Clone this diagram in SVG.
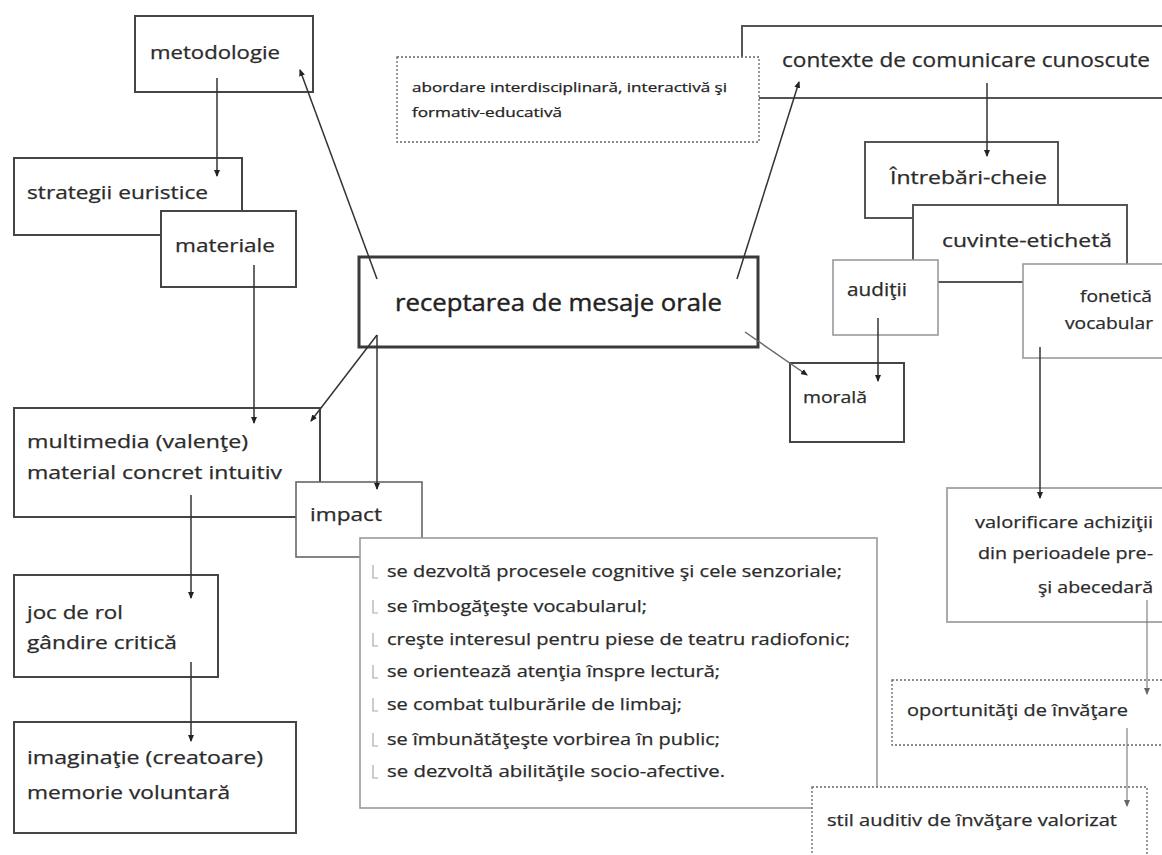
<svg xmlns="http://www.w3.org/2000/svg" width="1162" height="855" viewBox="0 0 1162 855">
<defs>
<style>
.b{fill:#fff;stroke:#454545;stroke-width:2}
.c{fill:#fff;stroke:#3a3a3a;stroke-width:3}
.g{fill:#fff;stroke:#9a9a9a;stroke-width:1.6}
.d{fill:#fff;stroke:#666;stroke-width:1.3;stroke-dasharray:2 2}
text{font-family:"Open Sans","Liberation Sans",sans-serif;fill:#2b2b2b;stroke:#2b2b2b;stroke-width:0.25;font-size:18px}
.s{font-size:16px}
.t{font-size:13px;fill:#222;stroke:#222}
.m{font-size:23px;fill:#222;stroke:#222;stroke-width:0.4}
.k{stroke:#333;stroke-width:1.5;fill:none;marker-end:url(#a)}
.kg{stroke:#777;stroke-width:1.1;fill:none;marker-end:url(#ag)}
.bl{stroke:#aaa;stroke-width:1.2;fill:none}
</style>
<marker id="a" markerUnits="userSpaceOnUse" markerWidth="7" markerHeight="7" refX="6" refY="3.5" orient="auto"><path d="M0,0.5 L7,3.5 L0,6.5 z" fill="#222"/></marker>
<marker id="ag" markerUnits="userSpaceOnUse" markerWidth="7" markerHeight="7" refX="6" refY="3.5" orient="auto"><path d="M0,0.5 L7,3.5 L0,6.5 z" fill="#666"/></marker>
</defs>
<rect width="1162" height="855" fill="#fff"/>

<g id="n-metodologie"><rect class="b" x="135" y="16" width="178" height="76"/><text x="150" y="59" textLength="130" lengthAdjust="spacingAndGlyphs">metodologie</text></g>
<g id="n-strategii"><rect class="b" x="14" y="158" width="228" height="77"/><text x="27" y="199" textLength="181" lengthAdjust="spacingAndGlyphs">strategii euristice</text></g>
<g id="n-materiale"><rect class="b" x="161" y="211" width="135" height="76"/><text x="175" y="252" textLength="100" lengthAdjust="spacingAndGlyphs">materiale</text></g>
<g id="n-multimedia"><rect class="b" x="14" y="408" width="306" height="109"/><text x="27" y="448" textLength="221" lengthAdjust="spacingAndGlyphs">multimedia (valenţe)</text><text x="27" y="479" textLength="255" lengthAdjust="spacingAndGlyphs">material concret intuitiv</text></g>
<g id="n-impact"><rect class="b" x="296" y="482" width="126" height="75" style="stroke:#666;stroke-width:1.6"/><text x="310" y="521" textLength="72" lengthAdjust="spacingAndGlyphs">impact</text></g>
<g id="n-joc"><rect class="b" x="14" y="575" width="204" height="102"/><text x="27" y="619" textLength="96" lengthAdjust="spacingAndGlyphs">joc de rol</text><text x="27" y="649" textLength="150" lengthAdjust="spacingAndGlyphs">gândire critică</text></g>
<g id="n-imaginatie"><rect class="b" x="14" y="722" width="282" height="111"/><text x="27" y="764" textLength="236" lengthAdjust="spacingAndGlyphs">imaginaţie (creatoare)</text><text x="27" y="799" textLength="203" lengthAdjust="spacingAndGlyphs">memorie voluntară</text></g>

<g id="n-receptarea"><rect class="c" x="359" y="257" width="399" height="90"/><text class="m" x="395" y="311" textLength="327" lengthAdjust="spacingAndGlyphs">receptarea de mesaje orale</text></g>

<g id="n-contexte"><rect class="b" x="742" y="26" width="440" height="72" style="stroke:#555"/><text x="782" y="67" style="font-size:20px" textLength="368" lengthAdjust="spacingAndGlyphs">contexte de comunicare cunoscute</text></g>
<g id="n-abordare"><rect class="d" x="397" y="57" width="362" height="85"/><text class="t" x="412" y="92" textLength="315" lengthAdjust="spacingAndGlyphs">abordare interdisciplinară, interactivă şi</text><text class="t" x="412" y="117" textLength="150" lengthAdjust="spacingAndGlyphs">formativ-educativă</text></g>

<g id="n-intrebari"><rect class="b" x="865" y="142" width="193" height="76" style="stroke:#555"/><text x="890" y="184" textLength="157" lengthAdjust="spacingAndGlyphs">Întrebări-cheie</text></g>
<g id="n-cuvinte"><rect class="b" x="913" y="205" width="214" height="77" style="stroke:#555"/><text x="942" y="247" textLength="170" lengthAdjust="spacingAndGlyphs">cuvinte-etichetă</text></g>
<g id="n-auditii"><rect class="g" x="833" y="260" width="105" height="75"/><text x="847" y="296" textLength="60" lengthAdjust="spacingAndGlyphs">audiţii</text></g>
<g id="n-fonetica"><rect class="g" x="1023" y="264" width="160" height="94"/><text class="s" x="1080" y="302" textLength="72" lengthAdjust="spacingAndGlyphs">fonetică</text><text class="s" x="1065" y="329" textLength="88" lengthAdjust="spacingAndGlyphs">vocabular</text></g>
<g id="n-morala"><rect class="b" x="790" y="363" width="114" height="79"/><text class="s" x="803" y="403" textLength="64" lengthAdjust="spacingAndGlyphs">morală</text></g>

<g id="n-valorificare"><rect class="g" x="947" y="488" width="230" height="134" style="stroke:#aaa;stroke-width:2"/><text class="s" x="975" y="528" textLength="178" lengthAdjust="spacingAndGlyphs">valorificare achiziţii</text><text class="s" x="978" y="559" textLength="175" lengthAdjust="spacingAndGlyphs">din perioadele pre-</text><text class="s" x="1038" y="593" textLength="115" lengthAdjust="spacingAndGlyphs">şi abecedară</text></g>

<g id="n-impact-lista"><rect class="g" x="360" y="538" width="517" height="270"/>
<path class="bl" d="M373,565 V578 H378 M373,600 V613 H378 M373,633 V646 H378 M373,665 V678 H378 M373,698 V711 H378 M373,733 V746 H378 M373,765 V778 H378"/>
<text class="s" x="387" y="577" textLength="455" lengthAdjust="spacingAndGlyphs">se dezvoltă procesele cognitive şi cele senzoriale;</text>
<text class="s" x="387" y="612" textLength="260" lengthAdjust="spacingAndGlyphs">se îmbogăţeşte vocabularul;</text>
<text class="s" x="387" y="645" textLength="463" lengthAdjust="spacingAndGlyphs">creşte interesul pentru piese de teatru radiofonic;</text>
<text class="s" x="387" y="677" textLength="333" lengthAdjust="spacingAndGlyphs">se orientează atenţia înspre lectură;</text>
<text class="s" x="387" y="710" textLength="295" lengthAdjust="spacingAndGlyphs">se combat tulburările de limbaj;</text>
<text class="s" x="387" y="745" textLength="333" lengthAdjust="spacingAndGlyphs">se îmbunătăţeşte vorbirea în public;</text>
<text class="s" x="387" y="777" textLength="338" lengthAdjust="spacingAndGlyphs">se dezvoltă abilităţile socio-afective.</text>
</g>

<g id="n-oportunitati"><rect class="d" x="892" y="680" width="290" height="65"/><text class="s" x="907" y="716" style="font-size:17px" textLength="221" lengthAdjust="spacingAndGlyphs">oportunităţi de învăţare</text></g>
<g id="n-stil"><rect class="d" x="812" y="787" width="335" height="80"/><text class="s" x="827" y="826" textLength="290" lengthAdjust="spacingAndGlyphs">stil auditiv de învăţare valorizat</text></g>

<g id="connectors">
<line class="k" x1="217" y1="78" x2="217" y2="176"/>
<line class="k" x1="377" y1="279" x2="300" y2="70"/>
<line class="k" x1="254" y1="265" x2="254" y2="423"/>
<line class="k" x1="377" y1="335" x2="311" y2="421"/>
<line class="k" x1="377" y1="335" x2="377" y2="489"/>
<line class="k" x1="191" y1="495" x2="191" y2="598"/>
<line class="k" x1="191" y1="662" x2="191" y2="741"/>
<line class="k" x1="737" y1="279" x2="799" y2="82"/>
<line class="k" x1="987" y1="83" x2="987" y2="156"/>
<line class="k" x1="878" y1="318" x2="878" y2="381"/>
<line class="k" x1="745" y1="332" x2="807" y2="375" style="stroke:#666"/>
<line class="k" x1="1040" y1="347" x2="1040" y2="498"/>
<line class="kg" x1="1147" y1="600" x2="1147" y2="694"/>
<line class="kg" x1="1127" y1="728" x2="1127" y2="806"/>
</g>
</svg>
